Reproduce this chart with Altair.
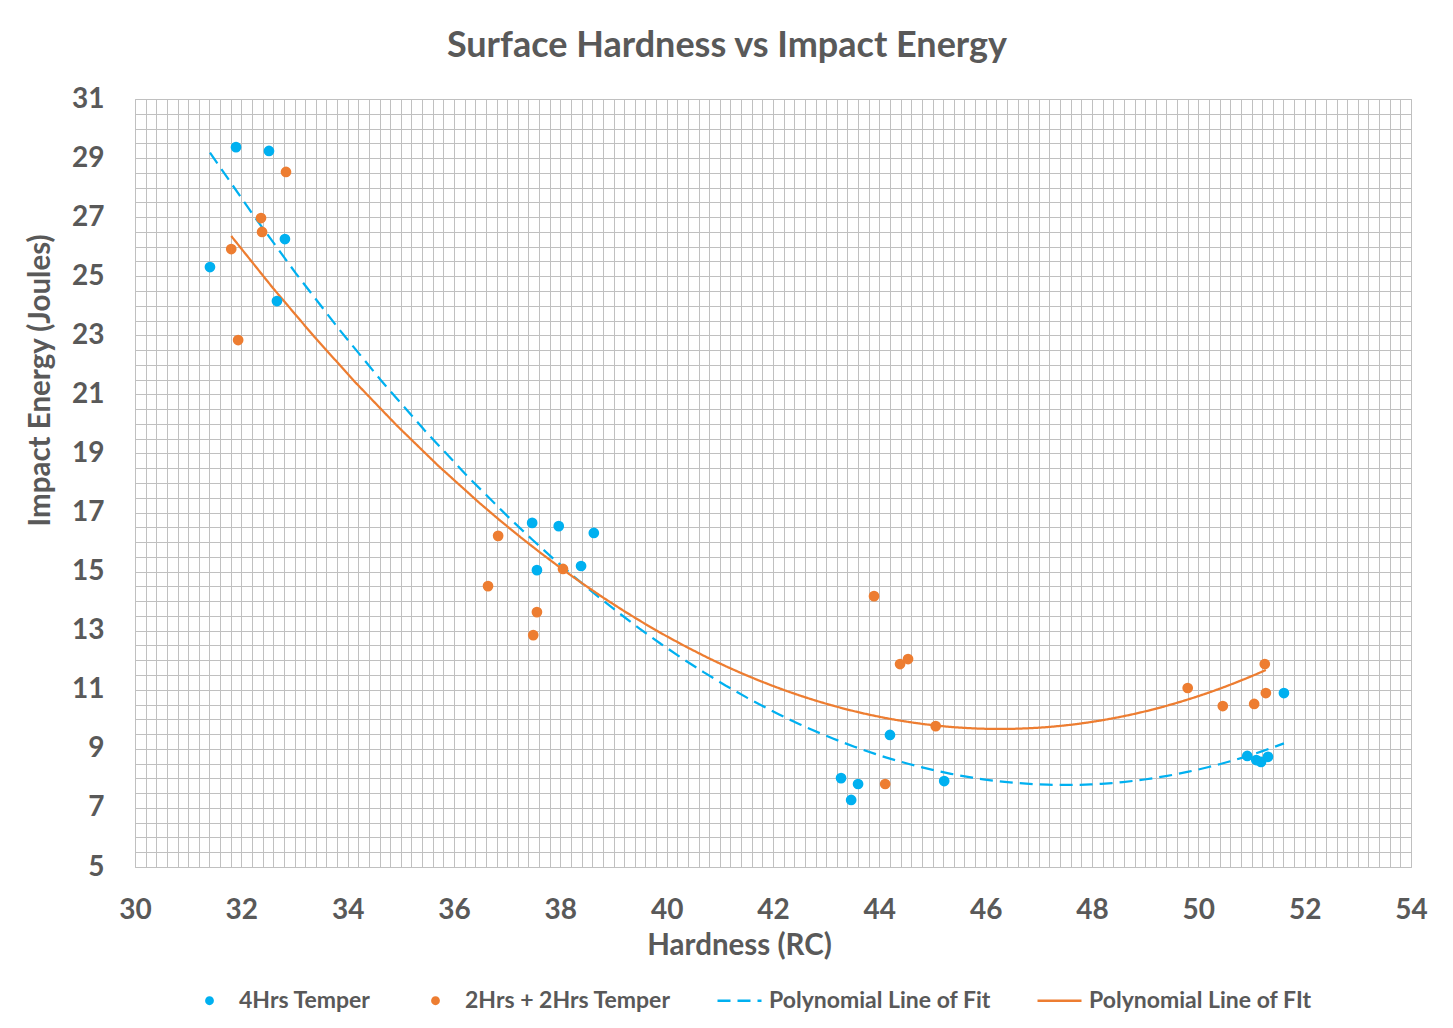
import altair as alt
import pandas as pd

# 4Hrs Temper
hx4 = [31.41, 31.90, 32.52, 32.82, 32.67, 37.47, 37.97, 38.63, 37.56, 38.39,
       43.28, 43.60, 43.47, 44.20, 45.22, 50.92, 51.09, 51.18, 51.31, 51.61]
ie4 = [25.31, 29.37, 29.24, 26.26, 24.16, 16.65, 16.54, 16.31, 15.05, 15.19,
       8.01, 7.81, 7.27, 9.47, 7.91, 8.76, 8.62, 8.56, 8.73, 10.89]
# 2Hrs + 2Hrs Temper
hx22 = [31.81, 31.94, 32.37, 32.39, 32.84, 36.83, 36.64, 37.56, 37.49, 38.05,
        43.90, 44.39, 44.54, 45.06, 44.11, 49.80, 50.46, 51.05, 51.27, 51.25]
ie22 = [25.92, 22.84, 26.97, 26.50, 28.53, 16.21, 14.51, 13.63, 12.85, 15.09,
        14.17, 11.87, 12.04, 9.77, 7.81, 11.06, 10.45, 10.52, 10.89, 11.87]

series_names = ["4Hrs Temper", "2Hrs + 2Hrs Temper",
                "Polynomial Line of Fit", "Polynomial Line of FIt"]
fill_colors = ["#00B0F0", "#ED7D31", "transparent", "transparent"]
stroke_colors = ["transparent", "transparent", "#00B0F0", "#ED7D31"]
dashes = [[1, 0], [1, 0], [13, 7], [1, 0]]

x_grid = [round(30 + 0.2 * i, 1) for i in range(121)]
y_grid = [round(5 + 0.5 * i, 1) for i in range(53)]

df = pd.DataFrame({
    "hx": hx4 + hx22,
    "ie": ie4 + ie22,
    "series": [series_names[0]] * len(hx4) + [series_names[1]] * len(hx22),
})

TXT = "#595959"
FONT = "Lato"

is_line = "indexof(['Polynomial Line of Fit','Polynomial Line of FIt'], datum.value) >= 0"
small_dot = "M-0.2,0A0.2,0.2,0,1,1,0.2,0A0.2,0.2,0,1,1,-0.2,0Z"

leg = alt.Legend(
    title=None, orient="none", direction="horizontal",
    legendX=51, legendY=878, columnPadding=41, labelOffset=6,
    padding=0, symbolOpacity=1, labelLimit=400,
    symbolSize=1936, symbolStrokeWidth=2.5,
    symbolType=alt.ExprRef(f"{is_line} ? 'stroke' : '{small_dot}'"),
    labelFont=FONT, labelFontSize=23, labelFontWeight="bold", labelColor=TXT,
)

fill_enc = alt.Fill("series:N", scale=alt.Scale(domain=series_names, range=fill_colors), legend=leg)
stroke_enc = alt.Stroke("series:N", scale=alt.Scale(domain=series_names, range=stroke_colors), legend=leg)
dash_enc = alt.StrokeDash("series:N", scale=alt.Scale(domain=series_names, range=dashes), legend=leg)

x_enc = alt.X(
    "hx:Q", title="Hardness (RC)",
    scale=alt.Scale(domain=[30, 54], nice=False, zero=False),
    axis=alt.Axis(values=x_grid, tickCount=500,
                  labelExpr="datum.value % 2 == 0 ? format(datum.value, 'd') : ''",
                  labelOverlap=False, labelFlush=False, labelPadding=29,
                  titleX=604, titleY=78, titleBaseline="middle"),
)
y_enc = alt.Y(
    "ie:Q", title="Impact Energy (Joules)",
    scale=alt.Scale(domain=[5, 31], nice=False, zero=False),
    axis=alt.Axis(values=y_grid, tickCount=500,
                  labelExpr="(datum.value - 5) % 2 == 0 ? format(datum.value, 'd') : ''",
                  labelOverlap=False, labelFlush=False, labelPadding=31,
                  titleX=-95, titleY=281, titleBaseline="middle"),
)

base = alt.Chart(df)

points = base.mark_point(opacity=1, strokeWidth=0, size=115, shape="circle").encode(
    x=x_enc, y=y_enc, fill=fill_enc, stroke=stroke_enc
)

fit_blue = base.transform_filter(
    alt.datum.series == series_names[0]
).transform_regression(
    "hx", "ie", method="poly", order=2
).transform_calculate(
    series=f"'{series_names[2]}'"
).mark_line(strokeWidth=2.25).encode(x="hx:Q", y="ie:Q", stroke=stroke_enc, strokeDash=dash_enc)

fit_orange = base.transform_filter(
    alt.datum.series == series_names[1]
).transform_regression(
    "hx", "ie", method="poly", order=2
).transform_calculate(
    series=f"'{series_names[3]}'"
).mark_line(strokeWidth=2.25).encode(x="hx:Q", y="ie:Q", stroke=stroke_enc, strokeDash=dash_enc)

chart = alt.layer(fit_blue, fit_orange, points).properties(
    width=1276, height=768,
    autosize=alt.AutoSizeParams(type="none"),
    padding={"left": 127, "top": 91, "right": 34, "bottom": 150},
    title=alt.TitleParams(
        "Surface Hardness vs Impact Energy", font=FONT, fontSize=36,
        fontWeight="bold", color=TXT, anchor="middle", frame="group",
        dx=-46, offset=20,
    ),
).configure(
    background="white"
).configure_view(
    stroke="#BFBFBF", strokeWidth=1
).configure_axis(
    grid=True, gridColor="#C0C0C0", gridWidth=1, gridOpacity=1,
    domain=False, ticks=False,
    labelFont=FONT, labelFontSize=28, labelFontWeight="bold", labelColor=TXT,
    titleFont=FONT, titleFontSize=29.5, titleFontWeight="bold", titleColor=TXT,
)

chart.save("out.html", embed_options={"renderer": "svg", "actions": False})
